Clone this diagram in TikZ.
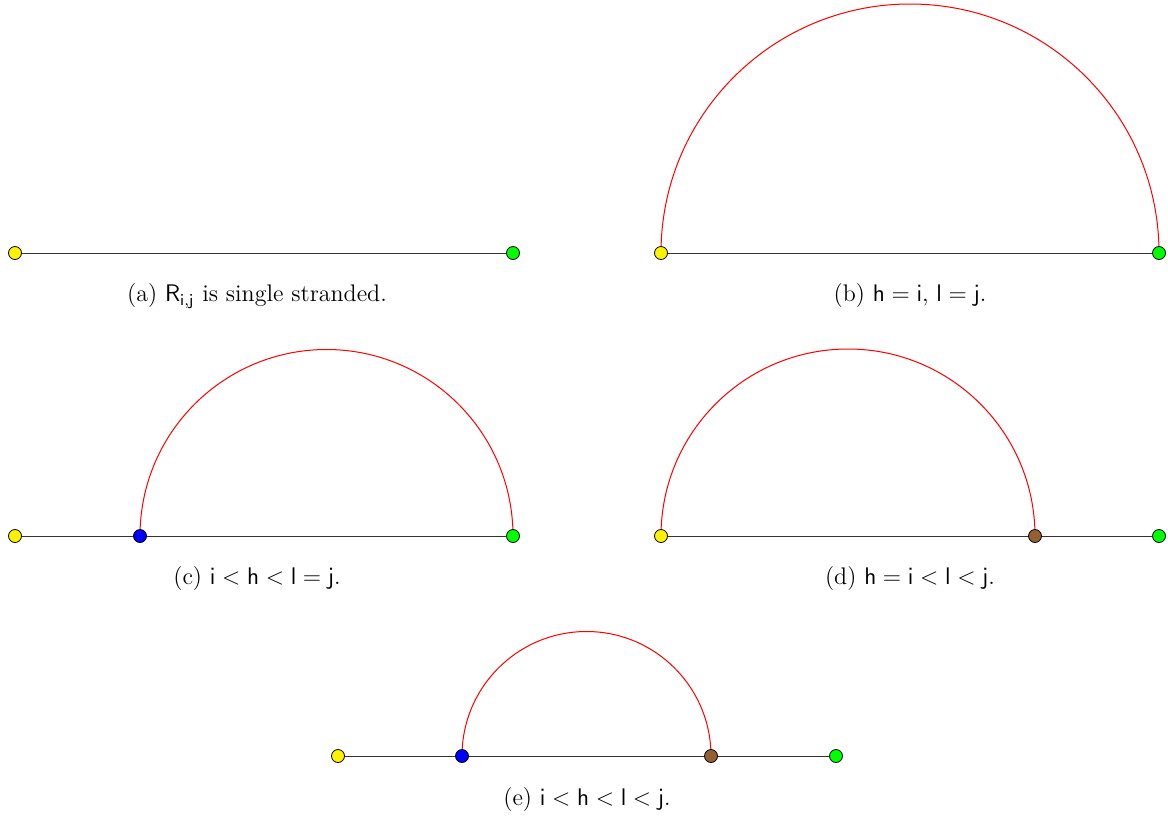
\documentclass[tikz,border=0pt]{standalone}
\newcommand{\vv}[1]{\mathsf{#1}}
\definecolor{dotbrown}{RGB}{150,95,50}
\begin{document}
\begin{tikzpicture}[x=0.5pt,y=-0.5pt,
  dot/.style={circle,draw=black,line width=0.4pt,inner sep=0pt,minimum size=6.5pt},
  strand/.style={draw=black!80,line width=0.5pt},
  bond/.style={draw=red,line width=0.5pt},
  captext/.style={font=\fontsize{12}{14}\selectfont,inner sep=0pt}]
\useasboundingbox (0,0) rectangle (1168,816);
% (a)
\coordinate (ai) at (15,253);
\coordinate (aj) at (513,253);
\draw[strand] (ai) -- (aj);
\node[dot,fill=yellow] (aI) at (ai) {};
\node[dot,fill=green] (aJ) at (aj) {};
\node[captext] (capa) at (257,296) {(a) $\vv{R}_{\vv{i},\vv{j}}$ is single stranded.};
% (b)
\coordinate (bi) at (661,253);
\coordinate (bj) at (1159,253);
\draw[strand] (bi) -- (bj);
\draw[bond] (bi) arc[start angle=180,end angle=360,radius=249];
\node[dot,fill=yellow] (bI) at (bi) {};
\node[dot,fill=green] (bJ) at (bj) {};
\node[captext] (capb) at (910,296) {(b) $\vv{h}=\vv{i}$, $\vv{l}=\vv{j}$.};
% (c)
\coordinate (ci) at (15,536);
\coordinate (ch) at (140,536);
\coordinate (cj) at (513,536);
\draw[strand] (ci) -- (cj);
\draw[bond] (ch) arc[start angle=180,end angle=360,radius=186.5];
\node[dot,fill=yellow] (cI) at (ci) {};
\node[dot,fill=blue] (cH) at (ch) {};
\node[dot,fill=green] (cJ) at (cj) {};
\node[captext] (capc) at (257,578) {(c) $\vv{i}<\vv{h}<\vv{l}=\vv{j}$.};
% (d)
\coordinate (di) at (661,536);
\coordinate (dl) at (1035,536);
\coordinate (dj) at (1159,536);
\draw[strand] (di) -- (dj);
\draw[bond] (di) arc[start angle=180,end angle=360,radius=187];
\node[dot,fill=yellow] (dI) at (di) {};
\node[dot,fill=dotbrown] (dL) at (dl) {};
\node[dot,fill=green] (dJ) at (dj) {};
\node[captext] (capd) at (910,578) {(d) $\vv{h}=\vv{i}<\vv{l}<\vv{j}$.};
% (e)
\coordinate (ei) at (338,756);
\coordinate (eh) at (462,756);
\coordinate (el) at (711,756);
\coordinate (ej) at (836,756);
\draw[strand] (ei) -- (ej);
\draw[bond] (eh) arc[start angle=180,end angle=360,radius=124.5];
\node[dot,fill=yellow] (eI) at (ei) {};
\node[dot,fill=blue] (eH) at (eh) {};
\node[dot,fill=dotbrown] (eL) at (el) {};
\node[dot,fill=green] (eJ) at (ej) {};
\node[captext] (cape) at (587,799) {(e) $\vv{i}<\vv{h}<\vv{l}<\vv{j}$.};
\end{tikzpicture}
\end{document}
